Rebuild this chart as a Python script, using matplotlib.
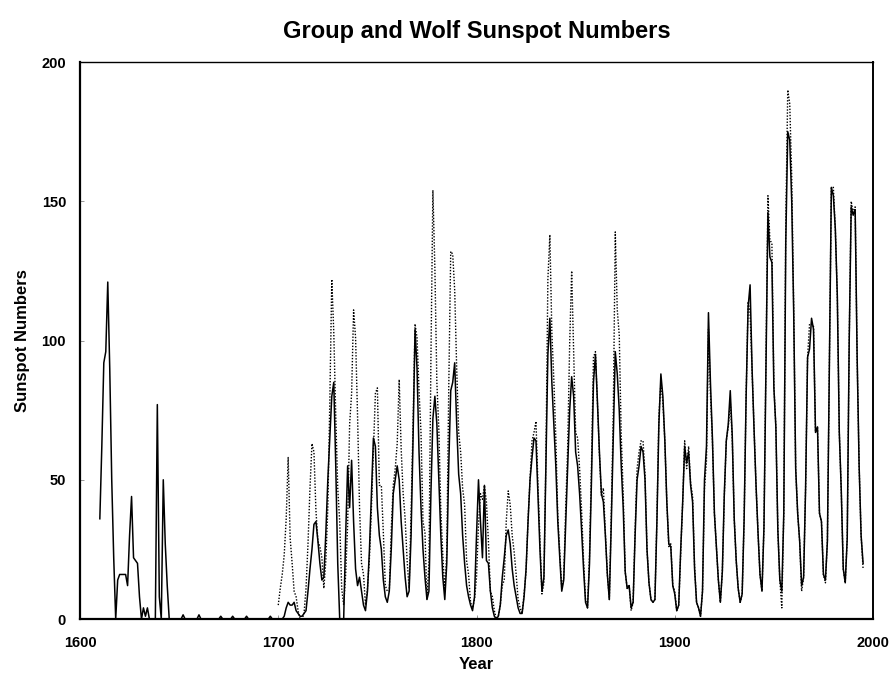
import numpy as np
import matplotlib
matplotlib.use('Agg')
import matplotlib.pyplot as plt

# group sunspot numbers, yearly 1610-1995
group_start = 1610
group = [36, 62, 92, 96, 121, 90, 50, 22, 0, 14,      # 1610s
         16, 16, 16, 16, 12, 30, 44, 22, 21, 20,      # 1620s
         8, 0, 4, 1, 4, 0, 0, 0, 0, 77,               # 1630s
         8, 0, 50, 27, 12, 0, 0, 0, 0, 0,             # 1640s
         0, 0, 1.5, 0, 0, 0, 0, 0, 0, 0,              # 1650s
         1.5, 0, 0, 0, 0, 0, 0, 0, 0, 0,              # 1660s
         0, 1, 0, 0, 0, 0, 0, 1, 0, 0,                # 1670s
         0, 0, 0, 0, 1, 0, 0, 0, 0, 0,                # 1680s
         0, 0, 0, 0, 0, 0, 1, 0, 0, 0,                # 1690s
         0, 0, 0, 1, 4, 6, 5, 5, 6, 3,                # 1700s
         2, 1, 1, 2, 3, 10, 18, 25, 34, 35,           # 1710s
         28, 20, 14, 15, 31, 50, 65, 80, 85, 55,      # 1720s
         20, 0, 0, 0, 30, 55, 40, 57, 35, 18,         # 1730s
         12, 15, 10, 5, 3, 10, 25, 45, 65, 62,        # 1740s
         40, 30, 25, 14, 8, 6, 10, 25, 45, 50,        # 1750s
         55, 50, 35, 25, 15, 8, 10, 30, 65, 104,      # 1760s
         90, 60, 40, 25, 15, 7, 10, 45, 72, 80,       # 1770s
         70, 50, 30, 15, 7, 20, 55, 82, 85, 92,       # 1780s
         70, 52, 45, 30, 20, 12, 8, 5, 3, 8,          # 1790s
         30, 50, 35, 22, 48, 21, 20, 10, 4, 1,        # 1800s
         0, 1, 5, 15, 22, 30, 32, 27, 18, 12,         # 1810s
         8, 4, 2, 2, 8, 18, 35, 50, 58, 65,           # 1820s
         64, 45, 25, 10, 15, 55, 95, 108, 85, 70,     # 1830s
         55, 35, 22, 10, 14, 35, 55, 75, 87, 80,      # 1840s
         60, 55, 45, 32, 18, 6, 4, 20, 50, 85,        # 1850s
         95, 78, 60, 45, 42, 30, 16, 7, 35, 65,       # 1860s
         96, 88, 75, 55, 40, 17, 11, 12, 4, 6,        # 1870s
         30, 50, 55, 62, 60, 50, 25, 13, 7, 6,        # 1880s
         7, 35, 70, 88, 80, 64, 42, 27, 26, 12,       # 1890s
         9, 3, 5, 25, 42, 62, 56, 60, 48, 42,         # 1900s
         18, 6, 4, 1, 10, 50, 62, 110, 85, 65,        # 1910s
         38, 26, 14, 6, 17, 45, 64, 70, 82, 66,       # 1920s
         36, 21, 11, 6, 9, 36, 80, 112, 120, 90,      # 1930s
         68, 48, 31, 16, 10, 33, 90, 146, 130, 128,   # 1940s
         83, 69, 32, 14, 10, 38, 135, 175, 172, 150,  # 1950s
         110, 54, 38, 28, 12, 15, 47, 94, 97, 108,    # 1960s
         104, 67, 69, 38, 35, 16, 14, 28, 93, 155,    # 1970s
         152, 140, 116, 67, 46, 18, 13, 29, 100, 148, # 1980s
         145, 147, 94, 55, 30, 20]                    # 1990-1995

# wolf sunspot numbers, yearly 1700-1995
wolf_start = 1700
wolf = [5, 11, 16, 23, 36, 58, 29, 20, 10, 8,
        3, 0, 0, 2, 11, 27, 47, 63, 60, 39,
        28, 26, 22, 11, 21, 40, 78, 122, 103, 73,
        47, 35, 11, 5, 16, 34, 70, 81, 111, 101,
        73, 40, 20, 16, 5, 11, 22, 40, 60, 81,
        83, 48, 48, 31, 12, 10, 10, 32, 48, 54,
        63, 86, 61, 45, 36, 21, 11, 38, 70, 106,
        101, 82, 67, 35, 31, 7, 20, 93, 154, 126,
        85, 68, 39, 23, 10, 24, 83, 132, 131, 118,
        90, 67, 60, 47, 41, 21, 16, 6, 4, 7,
        15, 34, 45, 43, 48, 42, 28, 10, 8, 3,
        0, 1, 5, 12, 14, 35, 46, 41, 30, 24,
        16, 7, 4, 2, 9, 17, 36, 50, 64, 67,
        71, 48, 28, 9, 13, 57, 122, 138, 103, 86,
        65, 37, 24, 11, 15, 40, 62, 99, 125, 96,
        67, 65, 54, 39, 21, 7, 4, 23, 55, 94,
        96, 77, 59, 44, 47, 31, 16, 7, 38, 74,
        139, 111, 102, 66, 45, 17, 11, 12, 3, 6,
        32, 54, 60, 64, 64, 52, 25, 13, 7, 6,
        7, 36, 73, 85, 78, 64, 42, 26, 27, 12,
        10, 3, 5, 24, 42, 64, 54, 62, 49, 44,
        19, 6, 4, 1, 10, 47, 57, 104, 81, 64,
        38, 26, 14, 6, 17, 44, 64, 69, 78, 65,
        36, 21, 11, 6, 9, 36, 80, 114, 110, 89,
        68, 48, 31, 16, 10, 33, 93, 152, 136, 135,
        84, 69, 32, 14, 4, 38, 142, 190, 185, 159,
        112, 54, 38, 28, 10, 15, 47, 94, 106, 106,
        105, 67, 69, 38, 35, 16, 13, 28, 93, 155,
        155, 140, 116, 67, 46, 18, 13, 29, 100, 150,
        146, 148, 94, 55, 30, 18]

group_years = np.arange(group_start, group_start + len(group))
wolf_years = np.arange(wolf_start, wolf_start + len(wolf))

plt.rcParams['font.family'] = ['Liberation Sans', 'DejaVu Sans']
plt.rcParams['font.weight'] = 'bold'

fig = plt.figure(figsize=(8.92, 6.73), dpi=100)
ax = fig.add_axes([0.0897, 0.0802, 0.889, 0.8276])

ax.plot(wolf_years, wolf, color='black', linestyle=(0, (1, 1.2)), linewidth=1.0)
ax.plot(group_years, group, color='black', linestyle='-', linewidth=1.1)

ax.set_xlim(1600, 2000)
ax.set_ylim(0, 200)
ax.set_xticks([1600, 1700, 1800, 1900, 2000])
ax.set_yticks([0, 50, 100, 150, 200])
ax.tick_params(axis='both', direction='in', length=3, width=0.6, color='#888888',
               labelsize=10.5)
ax.tick_params(axis='x', pad=12)
ax.tick_params(axis='y', pad=10)

ax.spines['left'].set_linewidth(1.6)
ax.spines['bottom'].set_linewidth(1.6)
ax.spines['right'].set_linewidth(1.4)
ax.spines['top'].set_linewidth(1.0)

ax.set_xlabel('Year', fontsize=12, fontweight='bold', labelpad=5)
ax.set_ylabel('Sunspot Numbers', fontsize=12, fontweight='bold', labelpad=8)
fig.text(0.534, 0.953, 'Group and Wolf Sunspot Numbers', ha='center', va='center',
         fontsize=17, fontweight='bold')

fig.savefig('out.png', dpi=100)
